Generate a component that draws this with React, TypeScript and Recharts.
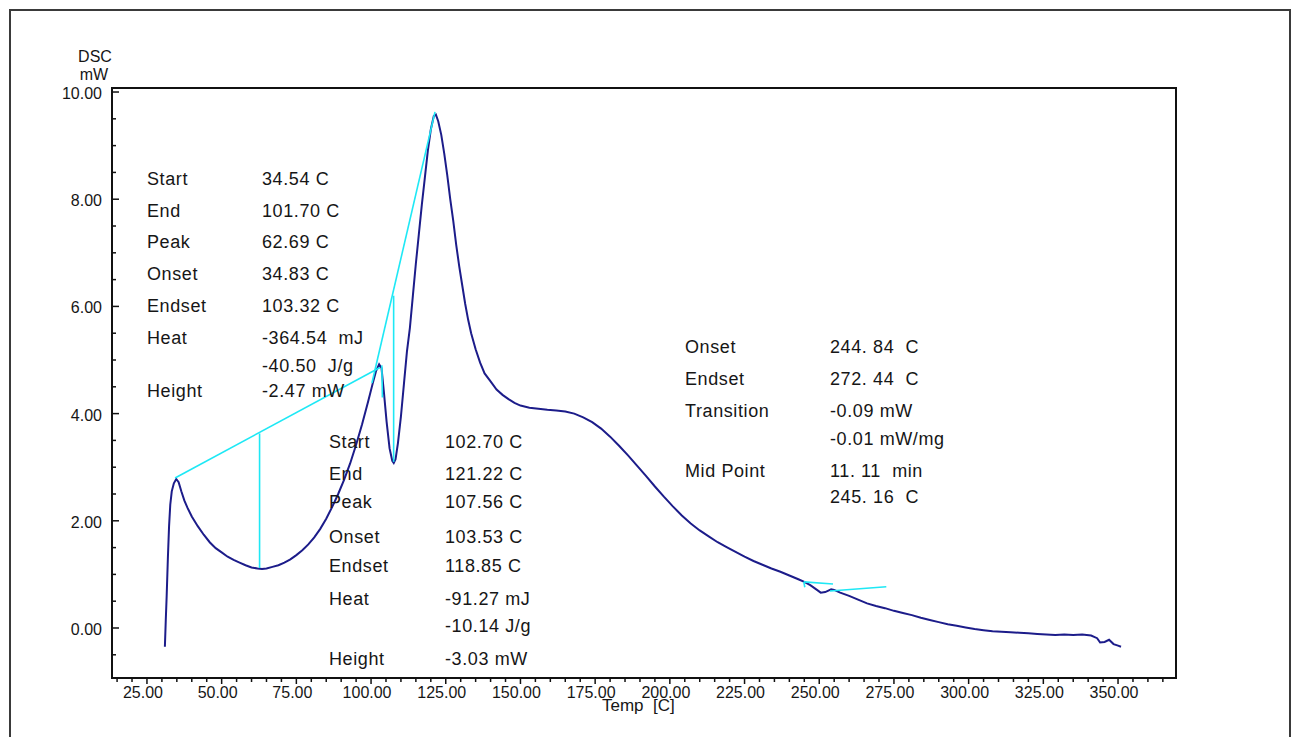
import React from "react";
import { ComposedChart, Line, XAxis, YAxis, ReferenceArea, ReferenceLine } from "recharts";

// ---- data ----
const temps: number[] = [
  31.0, 31.3, 31.6, 32.0, 32.4, 32.8, 33.3, 34.0, 34.8, 35.6, 36.5, 37.5, 38.5, 40, 42, 44, 46, 48, 50, 52,
  54, 56, 58, 60, 62, 63.5, 65, 67, 69, 71, 73, 75, 77, 79, 81, 83, 85, 87, 89, 91,
  93, 95, 97, 99, 100.5, 101.7, 102.7, 103.5, 104.3, 105.2, 106.2, 107.1, 107.6, 108.2, 109.0, 110, 111, 112, 113, 114,
  115, 116, 117, 118, 119, 120, 121, 121.7, 122.5, 123.5, 124.5, 125.5, 126.5, 127.5, 128.5, 129.5, 130.5, 131.5, 132.5, 133.5,
  135, 136.5, 138, 140, 142, 144, 146, 148, 150, 153, 156, 159, 162, 165, 168, 171, 174, 177, 180, 183,
  186, 189, 192, 195, 198, 201, 204, 207, 210, 213, 216, 219, 222, 225, 228, 231, 234, 237, 240, 243,
  245, 247, 249, 250.5, 252, 254, 255, 257, 260, 263, 266, 269, 272, 275, 278, 281, 284, 287, 290, 293,
  296, 299, 302, 305, 308, 311, 314, 317, 320, 323, 326, 329, 332, 335, 338, 341, 343, 344, 345.5, 347,
  348.5, 350, 351,
];
const dscValues: number[] = [
  -0.35, 0.15, 0.6, 1.3, 1.9, 2.3, 2.55, 2.7, 2.78, 2.72, 2.55, 2.38, 2.25, 2.08, 1.9, 1.74, 1.6, 1.49, 1.41, 1.33,
  1.27, 1.22, 1.17, 1.13, 1.11, 1.1, 1.11, 1.14, 1.17, 1.22, 1.28, 1.36, 1.45, 1.56, 1.69, 1.85, 2.04, 2.26, 2.5, 2.77,
  3.07, 3.42, 3.8, 4.22, 4.55, 4.8, 4.92, 4.85, 4.4, 3.85, 3.35, 3.12, 3.08, 3.15, 3.45, 3.95, 4.55, 5.15, 5.6, 6.2,
  6.8, 7.35, 7.9, 8.4, 8.9, 9.3, 9.55, 9.58, 9.45, 9.2, 8.85, 8.45, 8.0, 7.6, 7.15, 6.75, 6.4, 6.05, 5.75, 5.5,
  5.2, 4.95, 4.75, 4.6, 4.45, 4.35, 4.27, 4.2, 4.15, 4.11, 4.09, 4.07, 4.06, 4.04, 4.0, 3.93, 3.84, 3.72, 3.57, 3.4,
  3.22, 3.03, 2.84, 2.64, 2.45, 2.27, 2.1, 1.95, 1.82, 1.71, 1.6, 1.51, 1.42, 1.33, 1.25, 1.18, 1.11, 1.05, 0.98, 0.91,
  0.86, 0.8, 0.72, 0.66, 0.67, 0.72, 0.71, 0.66, 0.6, 0.53, 0.46, 0.41, 0.37, 0.32, 0.28, 0.24, 0.19, 0.15, 0.11, 0.07,
  0.04, 0.01, -0.02, -0.04, -0.06, -0.07, -0.08, -0.09, -0.1, -0.11, -0.12, -0.13, -0.12, -0.13, -0.12, -0.14, -0.19, -0.27, -0.26, -0.22,
  -0.3, -0.33, -0.35,
];

const xTicks: number[] = [];
for (let v = 15; v <= 365; v += 5) xTicks.push(v);
const xLabelTicks: number[] = [25, 50, 75, 100, 125, 150, 175, 200, 225, 250, 275, 300, 325, 350];
const yTicks: number[] = [];
for (let v = -0.5; v <= 10.001; v += 0.5) yTicks.push(Math.round(v * 10) / 10);
const yLabelTicks: number[] = [0, 2, 4, 6, 8, 10];

const X_MIN = 13.3;
const X_MAX = 369.4;
const Y_MIN = -0.933;
const Y_MAX = 10.075;

// cyan construction lines: [x1, y1, x2, y2]
const cyanSegments: number[][] = [
  [34.4, 2.8, 103.0, 4.86],
  [62.69, 3.63, 62.69, 1.12],
  [100.3, 4.57, 121.4, 9.63],
  [107.56, 6.2, 107.56, 3.1],
  [103.6, 4.9, 103.8, 4.3],
  [244.84, 0.86, 254.6, 0.82],
  [253.6, 0.69, 272.44, 0.77],
  [244.84, 0.86, 245.16, 0.76],
];

const block1Labels = ["Start", "End", "Peak", "Onset", "Endset", "Heat", "", "Height"];
const block1Values = ["34.54 C", "101.70 C", "62.69 C", "34.83 C", "103.32 C", "-364.54  mJ", "-40.50  J/g", "-2.47 mW"];
const block2Labels = ["Start", "End", "Peak", "Onset", "Endset", "Heat", "", "Height"];
const block2Values = ["102.70 C", "121.22 C", "107.56 C", "103.53 C", "118.85 C", "-91.27 mJ", "-10.14 J/g", "-3.03 mW"];
const block3Labels = ["Onset", "Endset", "Transition", "", "Mid Point", ""];
const block3Values = ["244. 84  C", "272. 44  C", "-0.09 mW", "-0.01 mW/mg", "11. 11  min", "245. 16  C"];

const block1Y = [185, 217, 248, 280, 312, 344, 372, 397];
const block2Y = [448, 480, 508, 543, 572, 605, 632, 665];
const block3Y = [353, 385, 417, 445, 477, 503];

const curveData = temps.map((t, i) => ({ t, mw: dscValues[i] }));

const FONT = "'Liberation Sans', Arial, sans-serif";
const TEXT = "#161616";

const XTick = (props: any) => {
  const { x, y, payload } = props;
  const v = payload.value;
  const major = xLabelTicks.includes(v);
  return (
    <g>
      <line x1={x} y1={y} x2={x} y2={y + (major ? 6 : 4)} stroke="#111" strokeWidth={1.5} />
      {major ? (
        <text x={x - 4} y={y + 20} textAnchor="middle" fontSize={16} fontFamily={FONT} fill={TEXT}>
          {v.toFixed(2)}
        </text>
      ) : null}
    </g>
  );
};

const YTick = (props: any) => {
  const { x, y, payload } = props;
  const v = payload.value;
  const major = yLabelTicks.includes(v);
  return (
    <g>
      <line x1={x} y1={y} x2={x + (major ? 7 : 4)} y2={y} stroke="#111" strokeWidth={1.5} />
      {major ? (
        <text x={x - 10} y={y + 7} textAnchor="end" fontSize={16} fontFamily={FONT} fill={TEXT}>
          {v.toFixed(2)}
        </text>
      ) : null}
    </g>
  );
};

const Block = ({ labels, values, ys, lx, vx }: { labels: string[]; values: string[]; ys: number[]; lx: number; vx: number }) => (
  <g>
    {labels.map((l, i) => (
      <text key={"l" + i} x={lx} y={ys[i]} fontSize={18} letterSpacing={0.6} fontFamily={FONT} fill={TEXT} style={{ whiteSpace: "pre" }}>
        {l}
      </text>
    ))}
    {values.map((v, i) => (
      <text key={"v" + i} x={vx} y={ys[i]} fontSize={18} letterSpacing={0.6} fontFamily={FONT} fill={TEXT} style={{ whiteSpace: "pre" }}>
        {v}
      </text>
    ))}
  </g>
);

export default function App() {
  return (
    <div style={{ position: "absolute", left: 0, top: 0, width: 1293, height: 737, overflow: "hidden", background: "#fff" }}>
      <div
        style={{
          position: "absolute",
          left: 9,
          top: 9,
          width: 1282,
          height: 745,
          border: "2px solid #3a3a3a",
          boxSizing: "border-box",
        }}
      />
      <div style={{ position: "absolute", left: 0, top: 0 }}>
        <ComposedChart width={1293} height={737} data={curveData} margin={{ top: 88, right: 117, bottom: 58, left: 111 }}>
          <XAxis
            type="number"
            dataKey="t"
            domain={[X_MIN, X_MAX]}
            ticks={xTicks}
            interval={0}
            tick={(p: any) => <XTick {...p} />}
            tickLine={false}
            axisLine={false}
            tickSize={0}
            tickMargin={0}
            height={1}
            allowDataOverflow
          />
          <YAxis
            type="number"
            domain={[Y_MIN, Y_MAX]}
            ticks={yTicks}
            interval={0}
            tick={(p: any) => <YTick {...p} />}
            tickLine={false}
            axisLine={false}
            tickSize={0}
            tickMargin={0}
            width={1}
            allowDataOverflow
          />
          <ReferenceArea x1={X_MIN} x2={X_MAX} y1={Y_MIN} y2={Y_MAX} fill="none" stroke="#111" strokeWidth={2} ifOverflow="visible" />
          <Line
            type="linear"
            dataKey="mw"
            stroke="#1c1c8a"
            strokeWidth={2}
            dot={false}
            isAnimationActive={false}
          />
          {cyanSegments.map((s, i) => (
            <ReferenceLine
              key={i}
              segment={[
                { x: s[0], y: s[1] },
                { x: s[2], y: s[3] },
              ]}
              stroke="#1ee8f5"
              strokeWidth={1.6}
              ifOverflow="visible"
            />
          ))}
        </ComposedChart>
      </div>
      <svg width={1293} height={737} style={{ position: "absolute", left: 0, top: 0, pointerEvents: "none" }}>
        <text x={95} y={62} textAnchor="middle" fontSize={16} fontFamily={FONT} fill={TEXT}>DSC</text>
        <text x={94} y={80} textAnchor="middle" fontSize={16} fontFamily={FONT} fill={TEXT}>mW</text>
        <text x={602} y={711} fontSize={17} fontFamily={FONT} fill={TEXT} style={{ whiteSpace: "pre" }}>{"Temp  [C]"}</text>
        <Block labels={block1Labels} values={block1Values} ys={block1Y} lx={147} vx={262} />
        <Block labels={block2Labels} values={block2Values} ys={block2Y} lx={329} vx={445} />
        <Block labels={block3Labels} values={block3Values} ys={block3Y} lx={685} vx={830} />
      </svg>
    </div>
  );
}
